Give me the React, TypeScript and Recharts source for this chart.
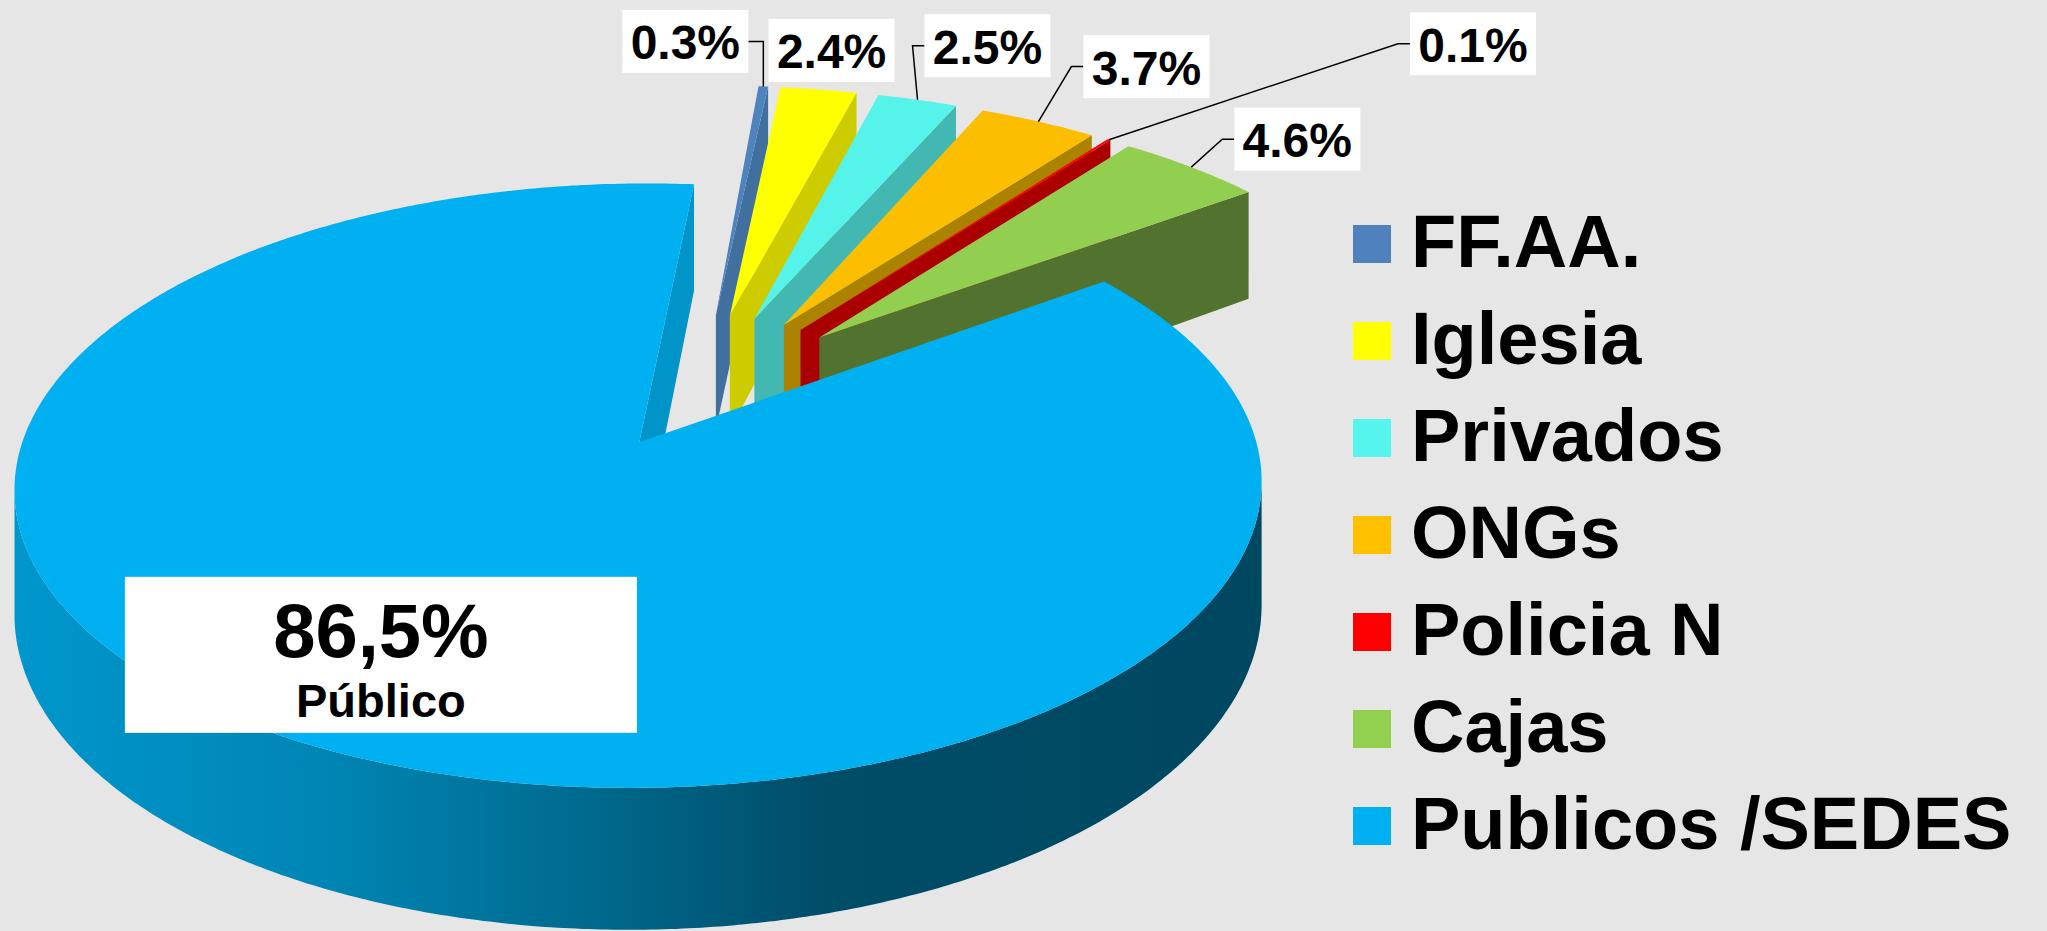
import React from "react"
import { PieChart, Pie, Legend } from "recharts"

const categories = ["FF.AA.", "Iglesia", "Privados", "ONGs", "Policia N", "Cajas", "Publicos /SEDES"]
const shares = [0.3, 2.4, 2.5, 3.7, 0.1, 4.6, 86.5]
const mainCaption = "Público"

const topColors = ["#4f83bd", "#ffff00", "#55f3ea", "#fbbe00", "#ff0000", "#92cf50", "#00b0f0"]
const wallColors = ["#41709f", "#cccc00", "#43b8b3", "#ab8300", "#ab0000", "#52722f", "#0094c8"]
const legendColors = ["#4f81bd", "#ffff00", "#55f5ee", "#ffc000", "#ff0000", "#92d050", "#00b0f0"]

// label box centre, relative to the rim point at the slice's mid angle
const labelNudge = [
  [-78, -45],
  [13, -39],
  [70, -54],
  [108, -55],
  [364, -96],
  [106, -28],
  [97, -82],
]

const W = 2047
const H = 931
const CX = 700
const CY = 392
const RADIUS = 602
const TILT = 0.468 // vertical squash of the top face
const PERSP = 0.14 // far side smaller than near side
const DEPTH = 0.197 // slab thickness, share of radius
const EXPLODE_MAIN = 0.2
const EXPLODE_OTHER = 0.285
const FONT = '"Liberation Sans", Arial, Helvetica, sans-serif'

const data = categories.map((name, i) => ({ name, value: shares[i] }))
const mainIndex = shares.indexOf(Math.max(...shares))

const rad = (d: number) => (d * Math.PI) / 180
const toPath = (pts: number[][]) => "M" + pts.map((p) => p[0].toFixed(1) + "," + p[1].toFixed(1)).join("L") + "Z"

function shade(hex: string, f: number) {
  const n = parseInt(hex.slice(1), 16)
  const c = [(n >> 16) & 255, (n >> 8) & 255, n & 255].map((v) => Math.round(v * f))
  return `rgb(${c[0]},${c[1]},${c[2]})`
}

// 3D geometry of one slice, built from the angles recharts computed
function sliceGeo(p: any) {
  const { cx, cy, outerRadius: R, startAngle: a, endAngle: b, index } = p
  const mid = (a + b) / 2
  const e = index === mainIndex ? EXPLODE_MAIN : EXPLODE_OTHER
  const ou = e * Math.cos(rad(mid))
  const ov = e * Math.sin(rad(mid))
  const project = (u: number, v: number, h: number) => {
    const w = 1 + PERSP * v
    return [cx + (R * u) / w, cy - (R * TILT * v) / w + (R * DEPTH * h) / w]
  }
  const rim = (t: number, h = 0) => project(ou + Math.cos(rad(t)), ov + Math.sin(rad(t)), h)
  const apex = (h = 0) => project(ou, ov, h)
  const steps = Math.max(2, Math.ceil(Math.abs(a - b) / 0.5) + 1)
  const ts: number[] = []
  for (let k = 0; k < steps; k++) ts.push(a + ((b - a) * k) / (steps - 1))
  const camV = -1 / PERSP
  const faces = (pu: number, pv: number, nu: number, nv: number) => (0 - pu) * nu + (camV - pv) * nv > 0
  return { a, b, mid, ou, ov, rim, apex, ts, faces }
}

function renderWalls(p: any) {
  const g = sliceGeo(p)
  const i = p.index
  const col = wallColors[i]
  const parts: React.ReactNode[] = []
  const radial = (t: number, nu: number, nv: number, key: string) => {
    const pu = g.ou + 0.5 * Math.cos(rad(t))
    const pv = g.ov + 0.5 * Math.sin(rad(t))
    if (!g.faces(pu, pv, nu, nv)) return
    parts.push(<path key={key} d={toPath([g.apex(0), g.rim(t, 0), g.rim(t, 1), g.apex(1)])} fill={col} />)
  }
  radial(g.a, -Math.sin(rad(g.a)), Math.cos(rad(g.a)), "wa")
  radial(g.b, Math.sin(rad(g.b)), -Math.cos(rad(g.b)), "wb")

  // curved outer wall, only the part turned to the viewer
  const runs: number[][] = []
  let run: number[] = []
  g.ts.forEach((t) => {
    const c = Math.cos(rad(t))
    const s = Math.sin(rad(t))
    if (g.faces(g.ou + c, g.ov + s, c, s)) run.push(t)
    else if (run.length) {
      runs.push(run)
      run = []
    }
  })
  if (run.length) runs.push(run)
  const gid = `side-${i}`
  let minX = Infinity
  let maxX = -Infinity
  runs.forEach((r, k) => {
    const top = r.map((t) => g.rim(t, 0))
    const bot = r.map((t) => g.rim(t, 1)).reverse()
    top.forEach((q) => {
      minX = Math.min(minX, q[0])
      maxX = Math.max(maxX, q[0])
    })
    parts.push(<path key={"o" + k} d={toPath([...top, ...bot])} fill={`url(#${gid})`} />)
  })
  return (
    <g key={"walls" + i}>
      {runs.length > 0 && (
        <defs>
          <linearGradient id={gid} gradientUnits="userSpaceOnUse" x1={minX} y1={0} x2={maxX} y2={0}>
            <stop offset="0" stopColor={shade(col, 1.02)} />
            <stop offset="0.25" stopColor={shade(col, 0.9)} />
            <stop offset="0.45" stopColor={shade(col, 0.72)} />
            <stop offset="0.65" stopColor={shade(col, 0.52)} />
            <stop offset="1" stopColor={shade(col, 0.48)} />
          </linearGradient>
        </defs>
      )}
      {parts}
    </g>
  )
}

function renderTop(p: any) {
  const g = sliceGeo(p)
  const pts = [g.apex(0), ...g.ts.map((t) => g.rim(t, 0))]
  return <path key={"top" + p.index} d={toPath(pts)} fill={topColors[p.index]} />
}

function renderText(p: any) {
  const g = sliceGeo(p)
  const i = p.index
  const main = i === mainIndex
  const anchor = g.rim(g.mid, 0)
  const bx = anchor[0] + labelNudge[i][0]
  const by = anchor[1] + labelNudge[i][1]
  const bw = main ? 512 : 126
  const bh = main ? 156 : 63
  const left = bx - bw / 2
  const right = bx + bw / 2
  const bottom = by + bh / 2
  let leader: string | null = null
  if (!main && !(anchor[1] - bottom < 12 && anchor[0] > left && anchor[0] < right)) {
    if (left > anchor[0]) leader = `M${left},${by}L${left - 12},${by}L${anchor[0]},${anchor[1]}`
    else if (right < anchor[0]) leader = `M${right},${by}L${anchor[0]},${by}L${anchor[0]},${anchor[1]}`
  }
  const pct = shares[i].toFixed(1)
  return (
    <g key={"lab" + i}>
      {leader && <path d={leader} fill="none" stroke="#000" strokeWidth={1.5} />}
      <rect x={left} y={by - bh / 2} width={bw} height={bh} fill="#fff" />
      {main ? (
        <>
          <text x={bx} y={by + 2} textAnchor="middle" fontFamily={FONT} fontWeight={700} fontSize={76} fill="#000">
            {pct.replace(".", ",") + "%"}
          </text>
          <text x={bx} y={by + 62} textAnchor="middle" fontFamily={FONT} fontWeight={700} fontSize={47} fill="#000">
            {mainCaption}
          </text>
        </>
      ) : (
        <text x={bx} y={by + 18} textAnchor="middle" fontFamily={FONT} fontWeight={700} fontSize={48} fill="#000">
          {pct + "%"}
        </text>
      )}
    </g>
  )
}

const renderLegend = () => (
  <div>
    {categories.map((c, i) => (
      <div key={c} style={{ height: 97, display: "flex", alignItems: "center" }}>
        <span style={{ width: 38, height: 38, background: legendColors[i], marginRight: 20, marginTop: 4, flex: "none" }} />
        <span style={{ fontFamily: FONT, fontWeight: 700, fontSize: 74, lineHeight: 1, color: "#000", whiteSpace: "nowrap" }}>{c}</span>
      </div>
    ))}
  </div>
)

const pieProps = {
  data,
  dataKey: "value",
  nameKey: "name",
  cx: CX,
  cy: CY,
  outerRadius: RADIUS,
  startAngle: 85,
  endAngle: -275,
  fill: "none",
  stroke: "none",
  isAnimationActive: false,
  labelLine: false,
}

export default function App() {
  return (
    <div style={{ position: "absolute", left: 0, top: 0, width: W, height: H, background: "#e6e6e6", overflow: "hidden" }}>
      <PieChart width={W} height={H} margin={{ top: 0, right: 0, bottom: 0, left: 0 }}>
        <Pie {...(pieProps as any)} legendType="none" label={renderWalls} />
        <Pie {...(pieProps as any)} label={renderTop} />
        <Pie {...(pieProps as any)} legendType="none" label={renderText} />
        <Legend content={renderLegend} wrapperStyle={{ left: 1353, top: 193, width: 694, height: 679 }} />
      </PieChart>
    </div>
  )
}
